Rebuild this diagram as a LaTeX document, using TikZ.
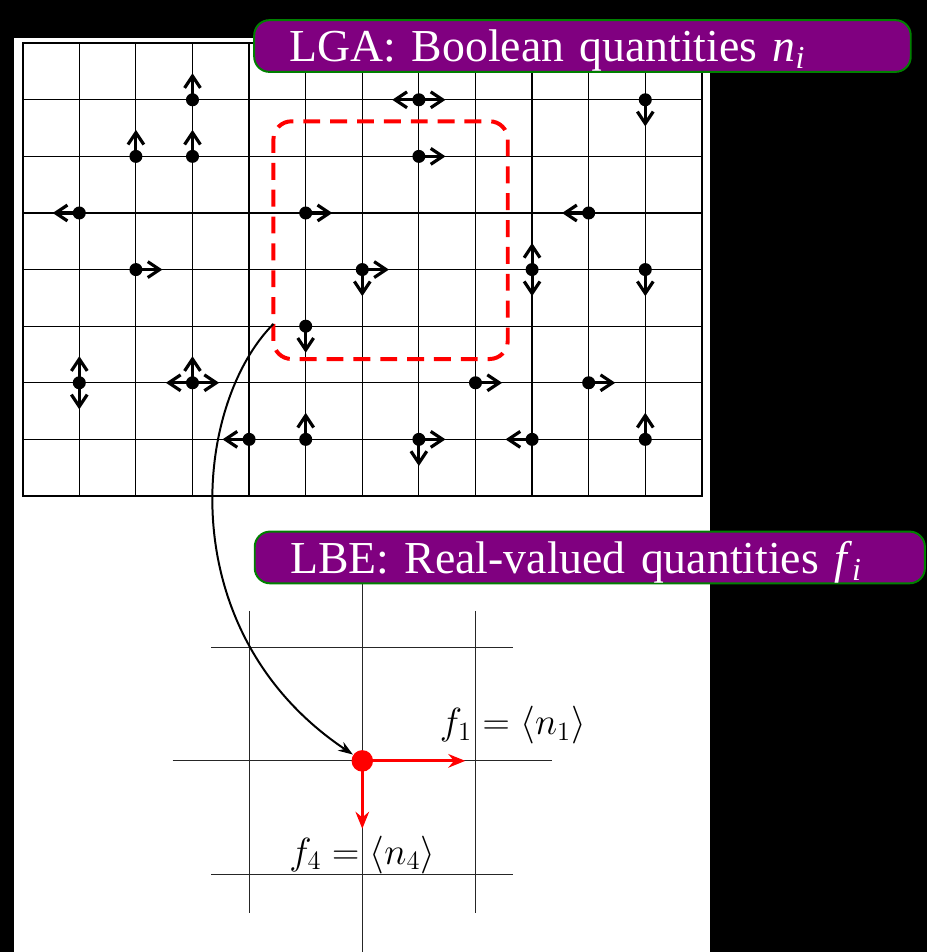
\RequirePackage{fix-cm}
\documentclass[tikz,border=0pt]{standalone}
\usepackage{amsmath}
\usepackage{fontspec}
\newfontfamily\timesfont{Liberation Serif}
\usetikzlibrary{arrows.meta}

\definecolor{tagpurple}{RGB}{128,0,128}
\definecolor{taggreen}{RGB}{0,128,0}

\begin{document}
\begin{tikzpicture}[line width=0.6pt,>=Stealth,
  dot/.style={circle,fill=black,inner sep=0pt,minimum size=2.3mm},
  mv/.style={line width=1.6pt,-{Straight Barb[length=2.1mm,width=2.8mm]}},
  tag/.style={draw=taggreen,line width=1pt,fill=tagpurple,rounded corners=2.7mm,
    text=white,font=\timesfont\fontsize{23}{28}\selectfont,align=left,
    inner xsep=0.63cm,inner ysep=0pt,text height=21pt,text depth=5pt}]
% background
\fill[black] (-0.401,-8.057) rectangle (15.977,8.763);
\fill[white] (-0.154,-8.057) rectangle (12.14,8.09);
\useasboundingbox (-0.401,-8.057) rectangle (15.977,8.763);
% LGA lattice
\draw (0,0) grid (12,8);
\draw[line width=1pt] (0,0) rectangle (12,8);
% particles, row by row
\node[dot] (p1) at (3,7) {};
\draw[mv] (p1.center) -- ++(0,0.47);
\node[dot] (p2) at (7,7) {};
\draw[mv] (p2.center) -- ++(-0.47,0);
\draw[mv] (p2.center) -- ++(0.47,0);
\node[dot] (p3) at (11,7) {};
\draw[mv] (p3.center) -- ++(0,-0.47);
\node[dot] (p4) at (2,6) {};
\draw[mv] (p4.center) -- ++(0,0.47);
\node[dot] (p5) at (3,6) {};
\draw[mv] (p5.center) -- ++(0,0.47);
\node[dot] (p6) at (7,6) {};
\draw[mv] (p6.center) -- ++(0.47,0);
\node[dot] (p7) at (1,5) {};
\draw[mv] (p7.center) -- ++(-0.47,0);
\node[dot] (p8) at (5,5) {};
\draw[mv] (p8.center) -- ++(0.47,0);
\node[dot] (p9) at (10,5) {};
\draw[mv] (p9.center) -- ++(-0.47,0);
\node[dot] (p10) at (2,4) {};
\draw[mv] (p10.center) -- ++(0.47,0);
\node[dot] (p11) at (6,4) {};
\draw[mv] (p11.center) -- ++(0.47,0);
\draw[mv] (p11.center) -- ++(0,-0.47);
\node[dot] (p12) at (9,4) {};
\draw[mv] (p12.center) -- ++(0,0.47);
\draw[mv] (p12.center) -- ++(0,-0.47);
\node[dot] (p13) at (11,4) {};
\draw[mv] (p13.center) -- ++(0,-0.47);
\node[dot] (p14) at (5,3) {};
\draw[mv] (p14.center) -- ++(0,-0.47);
\node[dot] (p15) at (1,2) {};
\draw[mv] (p15.center) -- ++(0,0.47);
\draw[mv] (p15.center) -- ++(0,-0.47);
\node[dot] (p16) at (3,2) {};
\draw[mv] (p16.center) -- ++(-0.47,0);
\draw[mv] (p16.center) -- ++(0,0.47);
\draw[mv] (p16.center) -- ++(0.47,0);
\node[dot] (p17) at (8,2) {};
\draw[mv] (p17.center) -- ++(0.47,0);
\node[dot] (p18) at (10,2) {};
\draw[mv] (p18.center) -- ++(0.47,0);
\node[dot] (p19) at (4,1) {};
\draw[mv] (p19.center) -- ++(-0.47,0);
\node[dot] (p20) at (5,1) {};
\draw[mv] (p20.center) -- ++(0,0.47);
\node[dot] (p21) at (7,1) {};
\draw[mv] (p21.center) -- ++(0.47,0);
\draw[mv] (p21.center) -- ++(0,-0.47);
\node[dot] (p22) at (9,1) {};
\draw[mv] (p22.center) -- ++(-0.47,0);
\node[dot] (p23) at (11,1) {};
\draw[mv] (p23.center) -- ++(0,0.47);
% averaging window
\draw[red,line width=2pt,dash pattern=on 8.5pt off 5pt,rounded corners=3.2mm]
  (4.43,2.42) rectangle (8.57,6.62);
% LBE lattice around one site
\draw[line width=0.5pt,black!85] (4,-2.03) -- (4,-7.37);
\draw[line width=0.5pt,black!85] (8,-2.03) -- (8,-7.37);
\draw[line width=0.5pt,black!85] (6,-1.3) -- (6,-8.06);
\draw[line width=0.5pt,black!85] (3.33,-2.68) -- (8.67,-2.68);
\draw[line width=0.5pt,black!85] (2.65,-4.68) -- (9.35,-4.68);
\draw[line width=0.5pt,black!85] (3.33,-6.68) -- (8.67,-6.68);
\node[circle,fill=red,inner sep=0pt,minimum size=3.8mm] (site) at (6,-4.68) {};
\draw[red,line width=1.5pt,-{Stealth[length=3mm,width=2.4mm,inset=1mm]}] (site.center) -- ++(1.82,0);
\draw[red,line width=1.5pt,-{Stealth[length=3mm,width=2.4mm,inset=1mm]}] (site.center) -- ++(0,-1.2);
\node (f1) at (8.66,-4.05) {\fontsize{19}{23}\selectfont $f_1=\langle n_1\rangle$};
\node (f4) at (6,-6.34) {\fontsize{19}{23}\selectfont $f_4=\langle n_4\rangle$};
% from the window down to the site
\coordinate (zone) at (4.43,3.04);
\draw[line width=1pt,-{Stealth[length=2.6mm,width=1.8mm]}] (zone) .. controls (3.0,1.6) and (2.6,-2.4) .. (site);
% captions
\node[tag,text width=10.34cm] (lga) at (9.89,7.95) {LGA: Boolean quantities \textit{n}$_{\text{\itshape i}}$};
\node[tag,text width=10.58cm] (lbe) at (10.02,-1.086) {LBE: Real-valued quantities \textit{f}$_{\text{\itshape i}}$};
\end{tikzpicture}
\end{document}
